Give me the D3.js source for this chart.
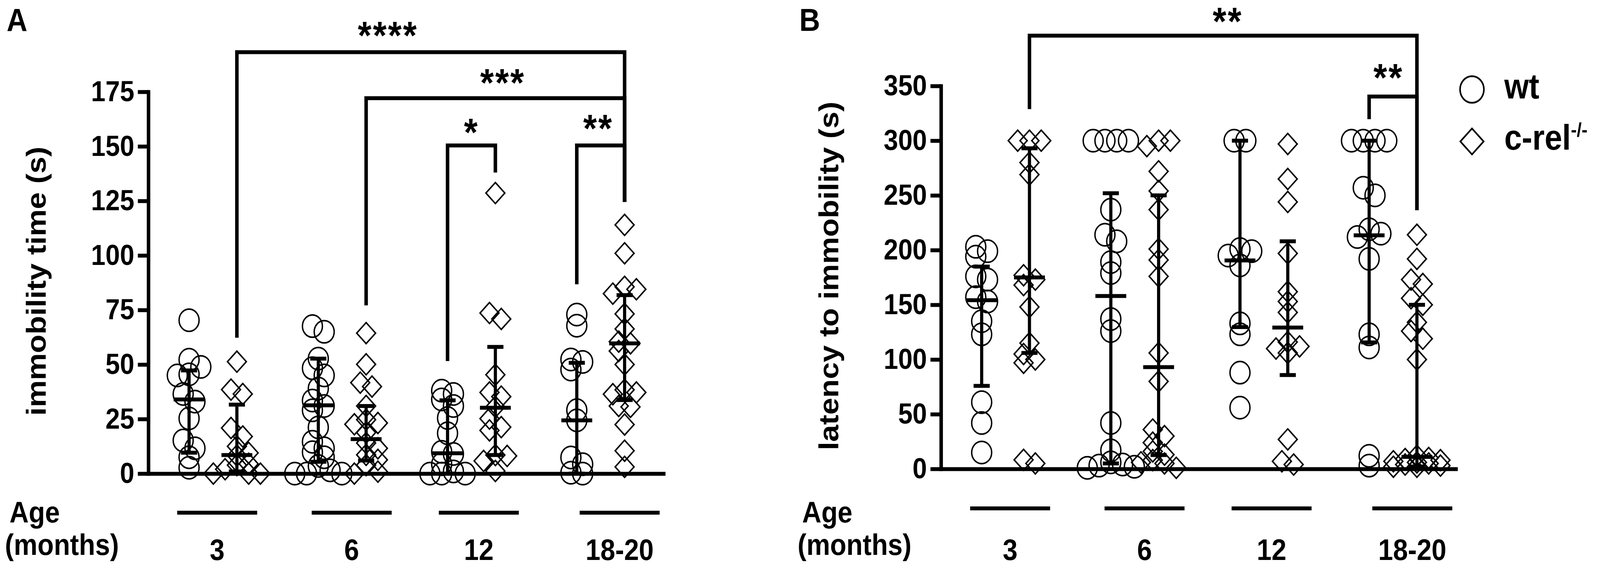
<!DOCTYPE html>
<html>
<head>
<meta charset="utf-8">
<script src="https://cdn.jsdelivr.net/npm/d3@7"></script>
<style>
html,body{margin:0;padding:0;background:#fff;width:100%;height:100%;overflow:hidden}
svg{display:block;position:fixed;left:0;top:0;width:100vw;height:100vh}
</style>
</head>
<body>
<svg id="chart" viewBox="0 0 4562 1451" preserveAspectRatio="none"></svg>
<script>
// ---------------- DATA ----------------
const ages = ["3", "6", "12", "18-20"];
const genotypes = ["wt", "ko"];

// Panel A: immobility time (s), individual animals
const immobWt3  = [70.3, 52.2, 48.9, 45.5, 45.0, 36.5, 33.0, 25.3, 15.2, 11.6, 7.5, 2.7];
const immobKo3  = [51.3, 38.5, 36.5, 20.9, 17.0, 12.5, 9.5, 8.3, 4.5, 3.9, 2.0, 0, 0, 0];
const immobWt6  = [67.6, 65.0, 52.7, 48.3, 45.0, 39.0, 33.5, 31.0, 29.0, 21.2, 14.6, 11.6, 9.8, 7.5, 3.5, 1.5, 0, 0, 0];
const immobKo6  = [64.4, 50.1, 41.7, 39.9, 31.0, 24.7, 23.2, 22.6, 18.8, 14.0, 11.6, 8.6, 6.3, 3.9, 0.9, 0];
const immobWt12 = [38.0, 36.5, 34.0, 31.0, 25.5, 18.5, 10.0, 9.0, 4.3, 1.0, 0, 0, 0];
const immobKo12 = [128.6, 73.6, 70.9, 45.3, 37.2, 35.3, 30.6, 25.2, 21.3, 19.8, 8.5, 8.1, 5.8, 1.2];
const immobWt18 = [72.9, 67.8, 52.3, 51.2, 47.7, 29.1, 24.4, 7.4, 4.3, 0.4, 0];
const immobKo18 = [114, 101, 85.6, 84.5, 82.5, 73.2, 66.3, 60.5, 59.7, 56.2, 50, 38.4, 37.2, 36.4, 31.0, 30.6, 22.5, 10.5, 3.1];
// median and interquartile range (per age)
const immobMedianWt = [34.0, 31.3, 9.3, 24.4];
const immobQ1Wt     = [9.6, 5.4, 0, 0];
const immobQ3Wt     = [47.3, 52.7, 33.6, 50.8];
const immobMedianKo = [8.5, 15.8, 30.2, 59.7];
const immobQ1Ko     = [1.0, 6.0, 8.5, 33.7];
const immobQ3Ko     = [31.6, 31.0, 58.1, 81.8];
const immobTicks = [0, 25, 50, 75, 100, 125, 150, 175];

// Panel B: latency to immobility (s)
const latWt3  = [203, 199, 194, 176, 173, 157, 153, 135, 123, 61, 42, 15];
const latKo3  = [300, 300, 300, 280, 269, 177, 173, 168, 148, 115, 105, 100, 97, 8.3, 5];
const latWt6  = [300, 300, 300, 300, 237, 214, 208, 189, 179, 137, 126, 42, 17, 6, 4, 3, 2, 1];
const latKo6  = [300, 300, 295, 272, 254, 237, 201, 191, 176, 106, 80, 36, 30, 24, 16, 13, 8, 6, 5, 1];
const latWt12 = [300, 300, 201, 199, 195, 186, 133, 123, 88, 56];
const latKo12 = [297, 265, 244, 197, 162, 153, 143, 116, 112, 110, 106, 27, 7, 4];
const latWt18 = [300, 300, 300, 300, 257, 250, 219, 215, 212, 192, 123, 111, 12, 3];
const latKo18 = [214, 192, 173, 169, 156, 150, 134, 126, 119, 100, 12, 10, 9, 8, 7, 6, 5, 4, 3, 2, 2];
const latMedianWt = [154.2, 158, 190.5, 213.5];
const latQ1Wt     = [75.9, 5, 129.6, 115.6];
const latQ3Wt     = [184.9, 252, 300, 300];
const latMedianKo = [175, 93, 129.2, 11];
const latQ1Ko     = [106, 12.7, 85.8, 2.2];
const latQ3Ko     = [293, 250, 208, 150];
const latTicks = [0, 50, 100, 150, 200, 250, 300, 350];

// significance labels
const sigLabelsA = ["****", "***", "*", "**"];
const sigLabelsB = ["**", "**"];
const legendLabels = ["wt", "c-rel"];

// ---------------- DRAWING ----------------
const W = 4562, H = 1451;
const FONT = '"Liberation Sans", Arial, Helvetica, sans-serif';
const svg = d3.select("#chart");
svg.append("rect").attr("width", W).attr("height", H).attr("fill", "#fff");

const D = 61;            // marker outer size
const R = 28.5;          // circle radius (stroke centre)
const diamondSize = 1450;

function swarm(values, y) {
  const s = 0.55 * D, minDy = 0.36 * D;
  const slots = [0, 1, -1, 2, -2];
  const placed = [];
  values.map((v, i) => ({v, i})).sort((a, b) => b.v - a.v).forEach(p => {
    const py = y(p.v);
    let best = 0, bestScore = -Infinity;
    for (const k of slots) {
      const dx = k * s;
      let ok = true, minD = Infinity;
      for (const q of placed) {
        const ddy = Math.abs(q.y - py), ddx = Math.abs(q.dx - dx);
        if (ddy < minDy && ddx < s * 0.9) ok = false;
        minD = Math.min(minD, Math.hypot(ddx, ddy));
      }
      if (ok) { best = dx; break; }
      if (minD > bestScore) { bestScore = minD; best = dx; }
    }
    placed.push({v: p.v, y: py, dx: best});
  });
  // centre each chain of vertically-close points
  let start = 0;
  for (let i = 1; i <= placed.length; i++) {
    if (i === placed.length || Math.abs(placed[i].y - placed[i - 1].y) >= minDy) {
      const chunk = placed.slice(start, i);
      if (chunk.length > 1) {
        const lo = d3.min(chunk, d => d.dx), hi = d3.max(chunk, d => d.dx);
        const mid = (lo + hi) / 2;
        chunk.forEach(d => d.dx -= mid);
      }
      start = i;
    }
  }
  return placed;
}

function drawPanel(p) {
  const g = svg.append("g");
  const y = d3.scaleLinear().domain(p.domain).range([p.yBottom, p.yTop]);
  const xg = d3.scaleBand().domain(ages).range([p.x0, p.x1]);
  const xs = d3.scalePoint().domain(genotypes).range([-0.185 * xg.step(), 0.185 * xg.step()]);
  const cx = (age, gt) => xg(age) + xg.bandwidth() / 2 + xs(gt);
  const gc = age => xg(age) + xg.bandwidth() / 2;

  // points
  genotypes.forEach(gt => {
    p.series[gt].forEach((vals, i) => {
      const age = ages[i];
      const pts = swarm(vals, y);
      const x = cx(age, gt);
      if (gt === "wt") {
        g.append("g").selectAll("circle").data(pts).join("circle")
          .attr("cx", d => x + d.dx).attr("cy", d => d.y).attr("r", R)
          .attr("fill", "none").attr("stroke", "#000").attr("stroke-width", 4);
      } else {
        g.append("g").selectAll("path").data(pts).join("path")
          .attr("d", d3.symbol(d3.symbolSquare, diamondSize))
          .attr("transform", d => `translate(${x + d.dx},${d.y}) rotate(45)`)
          .attr("fill", "none").attr("stroke", "#000").attr("stroke-width", 4);
      }
    });
  });

  // median + IQR
  genotypes.forEach(gt => {
    ages.forEach((age, i) => {
      const x = cx(age, gt);
      const q1 = y(p.q1[gt][i]), q3 = y(p.q3[gt][i]), md = y(p.median[gt][i]);
      g.append("line").attr("x1", x).attr("x2", x).attr("y1", q1).attr("y2", q3)
        .attr("stroke", "#000").attr("stroke-width", 9);
      [q1, q3].forEach(v => g.append("line").attr("x1", x - 23).attr("x2", x + 23)
        .attr("y1", v).attr("y2", v).attr("stroke", "#000").attr("stroke-width", 10));
      g.append("line").attr("x1", x - 44).attr("x2", x + 44).attr("y1", md).attr("y2", md)
        .attr("stroke", "#000").attr("stroke-width", 10);
    });
  });

  // y axis
  const ax = g.append("g").attr("transform", `translate(${p.x0},0)`)
    .call(d3.axisLeft(y).tickValues(p.ticks).tickSize(30).tickSizeOuter(0).tickPadding(10));
  ax.attr("font-family", null).attr("font-size", null);
  ax.select(".domain").attr("stroke", "#000").attr("stroke-width", 10).attr("stroke-linecap", "square");
  ax.selectAll(".tick line").attr("stroke", "#000").attr("stroke-width", 10);
  ax.selectAll(".tick text").attr("font-family", FONT).attr("font-size", 74)
    .attr("font-weight", "bold").attr("fill", "#000");

  // x axis (baseline)
  const axx = g.append("g").attr("transform", `translate(0,${p.yBottom})`)
    .call(d3.axisBottom(xg).tickSize(0).tickSizeOuter(0).tickFormat(""));
  axx.selectAll(".tick").remove();
  axx.select(".domain").attr("stroke", "#000").attr("stroke-width", 10);

  // age underlines and labels
  ages.forEach((age, i) => {
    const c = gc(age) + p.underOffset[i];
    g.append("line").attr("x1", c - 114).attr("x2", c + 114)
      .attr("y1", p.yBottom + p.underDy).attr("y2", p.yBottom + p.underDy)
      .attr("stroke", "#000").attr("stroke-width", 10);
    g.append("text").attr("x", c).attr("y", 1433).attr("text-anchor", "middle")
      .attr("font-family", FONT).attr("font-weight", "bold").attr("font-size", 76).text(age);
  });
  g.append("text").attr("x", p.x0 - 396).attr("y", 1337).attr("font-family", FONT)
    .attr("font-weight", "bold").attr("font-size", 76).text("Age");
  g.append("text").attr("x", p.x0 - 409).attr("y", 1420).attr("font-family", FONT)
    .attr("font-weight", "bold").attr("font-size", 76).text("(months)");

  // y title
  const ym = (p.yBottom + p.yTop) / 2 - 4;
  g.append("text").attr("transform", `translate(${p.x0 - 293},${ym}) rotate(-90)`)
    .attr("text-anchor", "middle").attr("font-family", FONT).attr("font-weight", "bold")
    .attr("font-size", 78).text(p.title);

  // panel letter
  g.append("text").attr("x", p.x0 - 404).attr("y", 79).attr("font-family", FONT)
    .attr("font-weight", "bold").attr("font-size", 82).text(p.letter);

  // significance brackets
  p.brackets.forEach((b, i) => {
    const xl = cx(b.from[0], b.from[1]), xr = cx(b.to[0], b.to[1]);
    const yl = y(b.level);
    const path = d3.path();
    path.moveTo(xl, y(b.legL)); path.lineTo(xl, yl); path.lineTo(xr, yl); path.lineTo(xr, y(b.legR));
    g.append("path").attr("d", path.toString()).attr("fill", "none")
      .attr("stroke", "#000").attr("stroke-width", 10);
    g.append("text").attr("x", (xl + xr) / 2 + b.labelDx).attr("y", y(b.labelY) + 57)
      .attr("text-anchor", "middle").attr("font-family", FONT).attr("font-weight", "bold")
      .attr("font-size", 100).attr("letter-spacing", 4).text(p.sigLabels[i]);
  });
}

drawPanel({
  letter: "A", title: "immobility time (s)",
  x0: 423, x1: 1897, yBottom: 1212, yTop: 235, domain: [0, 175], ticks: immobTicks,
  underOffset: [12, 27, 21, 54], underDy: 100,
  series: {wt: [immobWt3, immobWt6, immobWt12, immobWt18], ko: [immobKo3, immobKo6, immobKo12, immobKo18]},
  median: {wt: immobMedianWt, ko: immobMedianKo},
  q1: {wt: immobQ1Wt, ko: immobQ1Ko}, q3: {wt: immobQ3Wt, ko: immobQ3Ko},
  sigLabels: sigLabelsA,
  brackets: [
    {from: ["3", "ko"], to: ["18-20", "ko"], level: 193.2, legL: 62.3, legR: 124.5, labelY: 205, labelDx: -122},
    {from: ["6", "ko"], to: ["18-20", "ko"], level: 172.1, legL: 77.1, legR: 124.5, labelY: 183.2, labelDx: 21},
    {from: ["12", "wt"], to: ["12", "ko"], level: 150.4, legL: 51.6, legR: 138, labelY: 160.5, labelDx: 0},
    {from: ["18-20", "wt"], to: ["18-20", "ko"], level: 150.4, legL: 86.8, legR: 124.5, labelY: 162.3, labelDx: -7}
  ]
});

drawPanel({
  letter: "B", title: "latency to immobility (s)",
  x0: 2683, x1: 4156, yBottom: 1200, yTop: 220, domain: [0, 350], ticks: latTicks,
  underOffset: [13, 28, 22, 55], underDy: 101,
  series: {wt: [latWt3, latWt6, latWt12, latWt18], ko: [latKo3, latKo6, latKo12, latKo18]},
  median: {wt: latMedianWt, ko: latMedianKo},
  q1: {wt: latQ1Wt, ko: latQ1Ko}, q3: {wt: latQ3Wt, ko: latQ3Ko},
  sigLabels: sigLabelsB,
  brackets: [
    {from: ["3", "ko"], to: ["18-20", "ko"], level: 396, legL: 328.8, legR: 236.4, labelY: 417, labelDx: 13},
    {from: ["18-20", "wt"], to: ["18-20", "ko"], level: 340.4, legL: 319.6, legR: 236.4, labelY: 365.7, labelDx: -13}
  ]
});

// legend
const lg = svg.append("g");
lg.append("circle").attr("cx", 4197).attr("cy", 229).attr("r", 34)
  .attr("fill", "none").attr("stroke", "#000").attr("stroke-width", 4.5);
lg.append("path").attr("d", d3.symbol(d3.symbolSquare, 2200))
  .attr("transform", "translate(4197,362) rotate(45)")
  .attr("fill", "none").attr("stroke", "#000").attr("stroke-width", 4.5);
lg.append("text").attr("x", 4289).attr("y", 252).attr("font-family", FONT)
  .attr("font-weight", "bold").attr("font-size", 90).text(legendLabels[0]);
const t2 = lg.append("text").attr("x", 4289).attr("y", 383).attr("font-family", FONT)
  .attr("font-weight", "bold").attr("font-size", 90).text(legendLabels[1]);
t2.append("tspan").attr("font-size", 50).attr("dy", -34).text("-/-");
</script>
</body>
</html>
